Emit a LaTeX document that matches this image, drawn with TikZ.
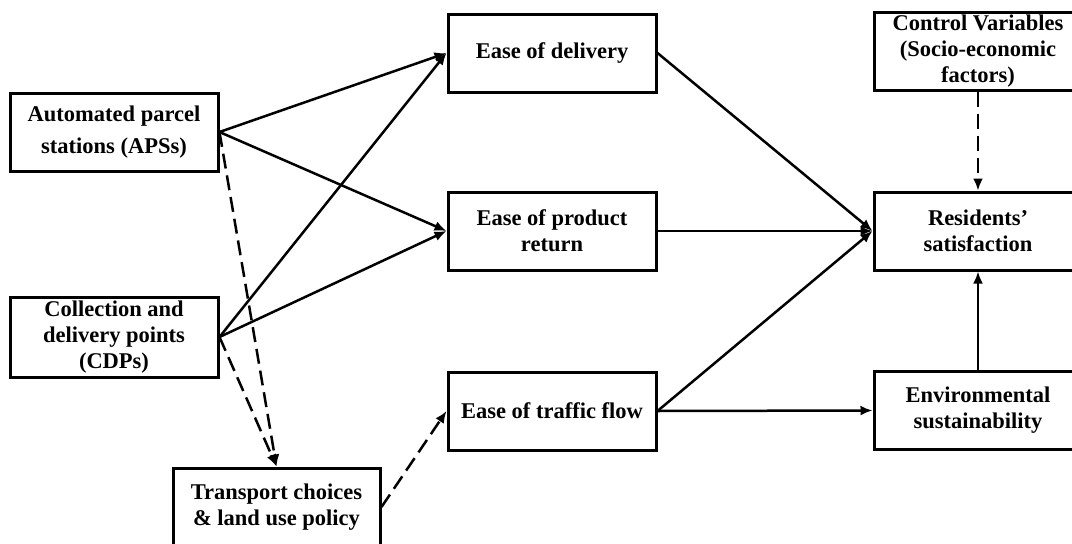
\documentclass[tikz,border=0pt]{standalone}
\usepackage{fontspec}
\setmainfont{Liberation Serif}
\usetikzlibrary{arrows.meta}
\begin{document}
\begin{tikzpicture}[x=1pt,y=-1pt,
  box/.style={draw, line width=3pt, minimum width=208pt, minimum height=78pt,
    inner sep=0pt, align=center, font=\fontsize{22.5}{26}\selectfont\bfseries},
  link/.style={line width=2.5pt, -{Latex[length=12pt,width=10pt]}},
  dlink/.style={link, dash pattern=on 15pt off 7pt}]
\useasboundingbox (0,0) rectangle (1072,544);
\clip (0,0) rectangle (1072,544);

% explanatory variables
\node[box] (aps) at (114,132) {Automated parcel\\[6pt]stations (APSs)};
\node[box, minimum height=80pt] (cdp) at (114,337) {Collection and\\delivery points\\(CDPs)};
\node[box, minimum width=207pt] (tcp) at (276.5,507) {Transport choices\\\& land use policy};

% mediators
\node[box] (del) at (552,53) {Ease of delivery};
\node[box] (ret) at (552,231) {Ease of product\\return};
\node[box] (trf) at (552,411) {Ease of traffic flow};

% outcomes and controls
\node[box] (ctl) at (978,51) {Control Variables\\(Socio-economic\\factors)};
\node[box] (res) at (978,231) {Residents’\\satisfaction};
\node[box] (env) at (978,410.5) {Environmental\\sustainability};

% direct paths
\draw[link] (aps.east) -- (del.west);
\draw[link] (aps.east) -- (ret.west);
\draw[link] (cdp.east) -- (del.west);
\draw[link] (cdp.east) -- (ret.west);

% hypothesised indirect paths
\draw[dlink] (aps.east) -- (tcp.north);
\draw[dlink] (cdp.east) -- (tcp.north);
\draw[dlink] (tcp.east) -- (trf.west);

% paths to satisfaction
\draw[link] (del.east) -- (res.west);
\draw[link] (ret.east) -- (res.west);
\draw[link] (trf.east) -- (res.west);
\draw[link] (trf.east) -- (env.west);
\draw[link] (env.north) -- (res.south);
\draw[dlink] (ctl.south) -- (res.north);
\end{tikzpicture}
\end{document}
